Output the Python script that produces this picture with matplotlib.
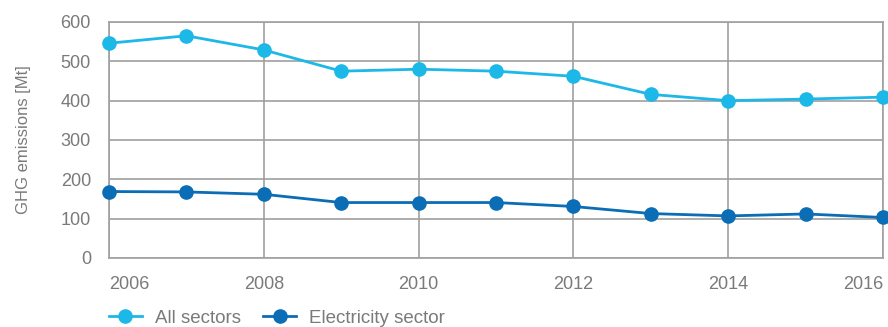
import matplotlib
matplotlib.use("Agg")
import matplotlib.pyplot as plt

years = [2006, 2007, 2008, 2009, 2010, 2011, 2012, 2013, 2014, 2015, 2016]
all_sectors = [546, 565, 529, 475, 480, 475, 462, 416, 400, 404, 409]
electricity = [169, 168, 162, 141, 141, 141, 131, 113, 107, 112, 103]
xticks = [2006, 2008, 2010, 2012, 2014, 2016]
yticks = [0, 100, 200, 300, 400, 500, 600]

plt.rcParams['font.family'] = ['Liberation Sans', 'DejaVu Sans']
text_color = '#7a7a7a'
grid_color = '#a0a0a0'
light = '#1bb8e8'
dark = '#0a6db5'

fig = plt.figure(figsize=(8.88, 3.27), dpi=100)
ax = fig.add_axes([109/888, 1 - 258/327, (883-109)/888, (258-22)/327])

ax.plot(years, all_sectors, color=light, lw=2, marker='o', ms=9.5, clip_on=False, zorder=3, label='All sectors')
ax.plot(years, electricity, color=dark, lw=2, marker='o', ms=9.5, clip_on=False, zorder=3, label='Electricity sector')

ax.set_xlim(2006, 2016)
ax.set_ylim(0, 600)
ax.set_xticks(xticks)
ax.set_yticks(yticks)
ax.grid(True, color=grid_color, lw=1.2)
ax.set_axisbelow(True)
for s in ax.spines.values():
    s.set_color(grid_color)
    s.set_linewidth(1.2)
ax.tick_params(length=0, labelsize=13, colors=text_color)
ax.tick_params(axis='x', pad=13)
ax.tick_params(axis='y', pad=13)
xlabels = ax.get_xticklabels()
xlabels[0].set_horizontalalignment('left')
xlabels[-1].set_horizontalalignment('right')
ax.set_ylabel('GHG emissions [Mt]', fontsize=12, color=text_color, labelpad=21)

leg = fig.legend(loc='center left', bbox_to_anchor=(109/888, 1 - 318/327), ncol=2,
                 frameon=False, fontsize=13.5, handlelength=1.75, columnspacing=1.2,
                 handletextpad=0.7, borderaxespad=0, borderpad=0)
for t in leg.get_texts():
    t.set_color(text_color)

fig.savefig('out.png', dpi=100)
